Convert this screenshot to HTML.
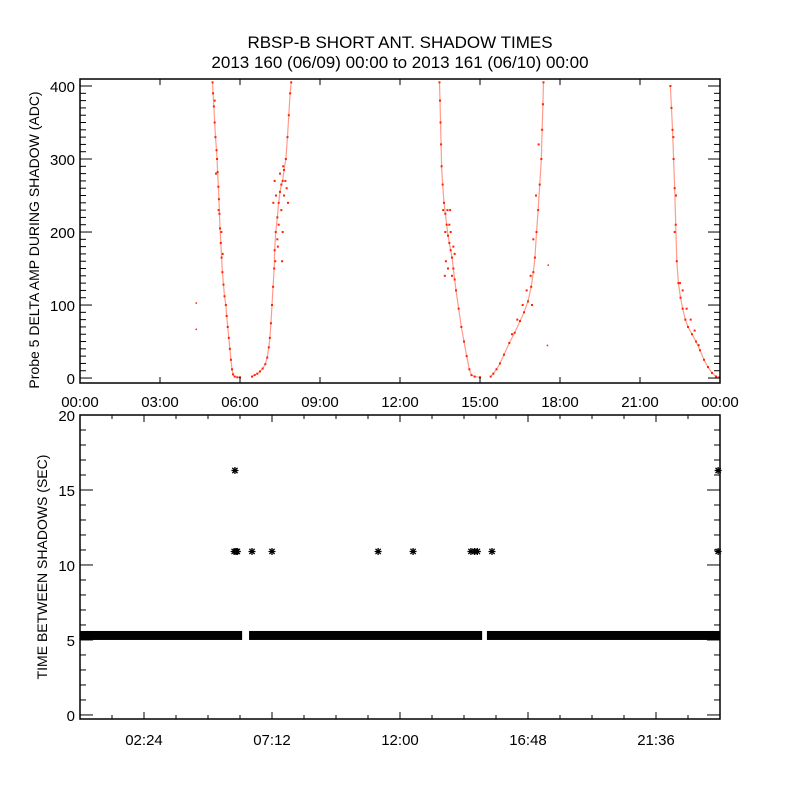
<!DOCTYPE html>
<html><head><meta charset="utf-8"><style>
body{margin:0;background:#fff;}
svg{display:block;font-family:"Liberation Sans",sans-serif;}
</style></head><body>
<svg id="c" width="800" height="800" xmlns="http://www.w3.org/2000/svg">
<text x="400" y="48" text-anchor="middle" font-size="17">RBSP-B SHORT ANT. SHADOW TIMES</text>
<text x="400" y="68" text-anchor="middle" font-size="17">2013 160 (06/09) 00:00 to 2013 161 (06/10) 00:00</text>
<g id="topPanel"></g>
<g id="botPanel"></g>
</svg>
<script>
// ---- top panel data (hour, ADC) ----
const branchDesc1=[[4.97,405],[4.99,390],[5.02,372],[5.05,350],[5.08,330],[5.12,312],[5.14,300],[5.16,282],[5.19,262],[5.21,245],[5.23,225],[5.25,205],[5.28,185],[5.31,165],[5.34,145],[5.38,128],[5.42,112],[5.47,100],[5.5,85],[5.54,70],[5.58,55],[5.62,40],[5.66,25],[5.7,12],[5.74,5],[5.8,2],[5.9,1],[6.0,1]];
const branchAsc1=[[6.45,2],[6.55,4],[6.65,6],[6.75,9],[6.85,13],[6.95,19],[7.02,28],[7.08,42],[7.12,55],[7.16,75],[7.2,100],[7.24,125],[7.28,150],[7.3,175],[7.34,200],[7.4,220],[7.45,240],[7.5,255],[7.55,265],[7.6,270],[7.65,285],[7.72,300],[7.78,330],[7.83,360],[7.88,390],[7.92,405]];
const branchDesc2=[[13.48,405],[13.5,380],[13.52,350],[13.54,320],[13.56,290],[13.6,265],[13.65,240],[13.7,225],[13.75,210],[13.8,195],[13.85,185],[13.9,175],[13.95,165],[14.0,150],[14.05,135],[14.1,120],[14.2,95],[14.3,70],[14.4,50],[14.5,30],[14.6,12],[14.68,4],[14.8,2],[15.0,1]];
const branchAsc2=[[15.4,2],[15.5,6],[15.62,12],[15.75,20],[15.9,32],[16.1,48],[16.3,62],[16.5,78],[16.65,90],[16.8,105],[16.92,125],[17.0,145],[17.06,165],[17.12,200],[17.18,230],[17.24,265],[17.3,300],[17.33,340],[17.36,375],[17.38,405]];
const branchDesc3=[[22.14,400],[22.18,370],[22.22,340],[22.26,300],[22.3,260],[22.34,210],[22.38,160],[22.44,130],[22.52,110],[22.6,95],[22.7,80],[22.8,70],[22.95,60],[23.1,50],[23.25,38],[23.4,25],[23.55,15],[23.7,7],[23.85,2],[23.98,1]];
const clusterPts=[[7.25,240],[7.3,270],[7.35,250],[7.4,190],[7.45,210],[7.5,280],[7.55,230],[7.6,200],[7.65,250],[7.7,270],[7.75,260],[7.8,240],[7.32,160],[7.42,180],[7.58,160],[7.62,290],
 [13.62,230],[13.7,200],[13.72,160],[13.78,230],[13.8,150],[13.85,210],[13.9,200],[13.95,140],[14.0,180],[13.68,140],[13.88,230],[14.05,170],
 [16.2,60],[16.4,80],[16.6,100],[16.75,120],[16.9,140],[17.0,190],[16.95,100],[17.1,250],[17.2,320],
 [22.25,330],[22.3,200],[22.35,250],[22.5,130],[22.6,120],[22.75,95],[22.9,80],[23.05,65],[23.2,45],[5.1,280],[5.2,230],[5.3,200],[5.35,170],[5.05,380]];
const strayPts=[[4.35,103],[4.35,67],[17.55,155],[17.52,45]];
// ---- bottom panel data (hour, seconds) ----
const bandSegments=[[0,6.08],[6.34,15.08],[15.26,24]];
const bandValue=[5.3];
const outHours=[5.81,5.78,5.85,5.9,6.45,7.2,11.18,12.49,14.66,14.8,14.9,15.45,23.93,23.93];
const outVals=[16.3,10.9,10.9,10.9,10.9,10.9,10.9,10.9,10.9,10.9,10.9,10.9,16.3,10.9];
const topXTicks=["00:00","03:00","06:00","09:00","12:00","15:00","18:00","21:00","00:00"];
const topYTicks=[0,100,200,300,400];
const botXTicks=["02:24","07:12","12:00","16:48","21:36"];
const botYTicks=[0,5,10,15,20];

const NS="http://www.w3.org/2000/svg";
function mk(p,t,a){const e=document.createElementNS(NS,t);for(const k in a)e.setAttribute(k,a[k]);p.appendChild(e);return e;}
const L=80,R=720;
const xh=h=>L+(h/24)*(R-L);
const T={top:79,bot:383,ymin:-6.8,ymax:409.6};
const yT=v=>T.bot-(v-T.ymin)/(T.ymax-T.ymin)*(T.bot-T.top);
const B={top:415,bot:719,ymin:-0.27,ymax:20};
const yB=v=>B.bot-(v-B.ymin)/(B.ymax-B.ymin)*(B.bot-B.top);

const topG=document.getElementById('topPanel'), botG=document.getElementById('botPanel');
const red="#ff2200";
[branchDesc1,branchAsc1,branchDesc2,branchAsc2,branchDesc3].forEach((br,i)=>{
  const pl=mk(topG,'polyline',{points:br.map(p=>xh(p[0])+','+yT(p[1])).join(' '),fill:'none',stroke:red,'stroke-width':1.2,'stroke-opacity':0.45});
  
  
  br.forEach(p=>{
    const r=mk(topG,'rect',{x:xh(p[0])-1,y:yT(p[1])-1,width:2,height:2,fill:red});
    
    
  });
});
clusterPts.forEach(p=>{
  const r=mk(topG,'rect',{x:xh(p[0])-1,y:yT(p[1])-1,width:2,height:2,fill:red});
  
  
});
strayPts.forEach(p=>{
  const r=mk(topG,'rect',{x:xh(p[0])-0.5,y:yT(p[1])-0.5,width:1.5,height:1.5,fill:red});
  
  
});
const f1=mk(topG,'rect',{x:L,y:T.top,width:R-L,height:T.bot-T.top,fill:'none',stroke:'#000','stroke-width':1.5});


for(let v=0;v<=400;v+=10){const y=yT(v);const len=v%100===0?12:6;
  mk(topG,'line',{x1:L,x2:L+len,y1:y,y2:y,stroke:'#000'});mk(topG,'line',{x1:R-len,x2:R,y1:y,y2:y,stroke:'#000'});}
topYTicks.forEach(v=>{const t=mk(topG,'text',{x:75,y:yT(v)+6,'text-anchor':'end','font-size':15});t.textContent=v;
  });
topXTicks.forEach((s,i)=>{const x=xh(i*3);
  mk(topG,'line',{x1:x,x2:x,y1:T.bot,y2:T.bot-6,stroke:'#000'});mk(topG,'line',{x1:x,x2:x,y1:T.top,y2:T.top+6,stroke:'#000'});
  const t=mk(topG,'text',{x:x,y:407,'text-anchor':'middle','font-size':15});t.textContent=s;
  });
const yl1=mk(topG,'text',{transform:'translate(39,240) rotate(-90)','text-anchor':'middle','font-size':14});
yl1.textContent='Probe 5 DELTA AMP DURING SHADOW (ADC)';


bandSegments.forEach(s=>{
  const r=mk(botG,'rect',{x:xh(s[0]),y:yB(bandValue[0])-4.5,width:xh(s[1])-xh(s[0]),height:9,fill:'#000'});
  
  
});
function star(g,cx,cy){const s=3.5;
  return mk(g,'path',{d:`M${cx-s},${cy}H${cx+s}M${cx},${cy-s}V${cy+s}M${cx-s*0.75},${cy-s*0.75}L${cx+s*0.75},${cy+s*0.75}M${cx-s*0.75},${cy+s*0.75}L${cx+s*0.75},${cy-s*0.75}`,stroke:'#000','stroke-width':1.3});}
outHours.forEach((h,i)=>{const p=star(botG,xh(h),yB(outVals[i]));
  });
const f2=mk(botG,'rect',{x:L,y:B.top,width:R-L,height:B.bot-B.top,fill:'none',stroke:'#000','stroke-width':1.5});


for(let v=0;v<=20;v+=1){const y=yB(v);const len=v%5===0?13:6;
  mk(botG,'line',{x1:L,x2:L+len,y1:y,y2:y,stroke:'#000'});mk(botG,'line',{x1:R-len,x2:R,y1:y,y2:y,stroke:'#000'});}
botYTicks.forEach(v=>{const t=mk(botG,'text',{x:75,y:yB(v)+6,'text-anchor':'end','font-size':15});t.textContent=v;
  });
for(let k=0;k<=20;k++){const x=L+k*32;const len=k%4===2?7:4;
  mk(botG,'line',{x1:x,x2:x,y1:B.bot,y2:B.bot-len,stroke:'#000'});mk(botG,'line',{x1:x,x2:x,y1:B.top,y2:B.top+len,stroke:'#000'});}
botXTicks.forEach((s,i)=>{const x=L+(2+4*i)*32;
  const t=mk(botG,'text',{x:x,y:745,'text-anchor':'middle','font-size':15});t.textContent=s;
  });
const yl2=mk(botG,'text',{transform:'translate(47,567) rotate(-90)','text-anchor':'middle','font-size':14});
yl2.textContent='TIME BETWEEN SHADOWS (SEC)';

</script>
</body></html>
